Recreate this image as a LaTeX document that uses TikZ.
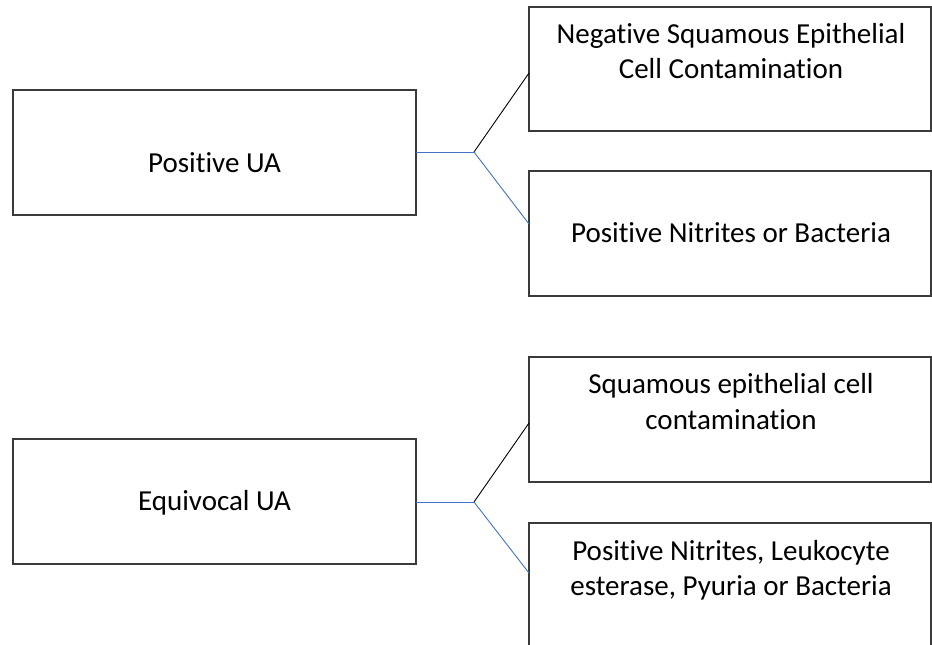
\documentclass[tikz,border=0pt]{standalone}
\usepackage{fontspec}
\setmainfont[Ligatures={NoCommon}]{Carlito}
\usetikzlibrary{calc}
\definecolor{boxline}{HTML}{3A3A3A}
\definecolor{conblue}{HTML}{4472C4}
\begin{document}
\begin{tikzpicture}[x=1pt,y=-1pt,
  box/.style={draw=boxline,line width=1.1pt,fill=none,inner sep=0pt,outer sep=0pt,rectangle},
  txt/.style={anchor=base,inner sep=0pt,font=\fontsize{29}{35}\selectfont,text=black},
  blueline/.style={draw=conblue,line width=0.9pt},
  blackline/.style={draw=black,line width=0.9pt}]
\useasboundingbox (0,0) rectangle (932,645);
\clip (0,0) rectangle (932,645);
% left boxes
\node[box,minimum width=403pt,minimum height=125pt,anchor=north west] (pos) at (13,90) {};
\node[box,minimum width=403pt,minimum height=125pt,anchor=north west] (equ) at (13,439) {};
% right boxes
\node[box,minimum width=402pt,minimum height=124pt,anchor=north west] (r1) at (529,7) {};
\node[box,minimum width=402pt,minimum height=125pt,anchor=north west] (r2) at (529,171) {};
\node[box,minimum width=402pt,minimum height=125pt,anchor=north west] (r3) at (529,357) {};
\node[box,minimum width=402pt,minimum height=125pt,anchor=north west] (r4) at (529,523) {};
% texts
\node[txt] (tpos) at (214.5,172) {Positive UA};
\node[txt] (tequ) at (214.5,510) {Equivocal UA};
\node[txt] (t1a) at (731,43) {Negative Squamous Epithelial};
\node[txt] (t1b) at (731,78) {Cell Contamination};
\node[txt] (t2a) at (731,242) {Positive Nitrites or Bacteria};
\node[txt] (t3a) at (731,393) {Squamous epithelial cell};
\node[txt] (t3b) at (731,429) {contamination};
\node[txt] (t4a) at (731,560) {Positive Nitrites, Leukocyte};
\node[txt] (t4b) at (731,595) {esterase, Pyuria or Bacteria};
% connectors
\coordinate (j1) at (474,152);
\coordinate (j2) at (474,502);
\coordinate (e1) at (529,73);
\coordinate (e2) at (529,224);
\coordinate (e3) at (529,423);
\coordinate (e4) at (529,573);
\draw[blueline] (pos.east |- j1) -- (j1);
\draw[blackline] (j1) -- (e1);
\draw[blueline] (j1) -- (e2);
\draw[blueline] (equ.east |- j2) -- (j2);
\draw[blackline] (j2) -- (e3);
\draw[blueline] (j2) -- (e4);
\end{tikzpicture}
\end{document}
